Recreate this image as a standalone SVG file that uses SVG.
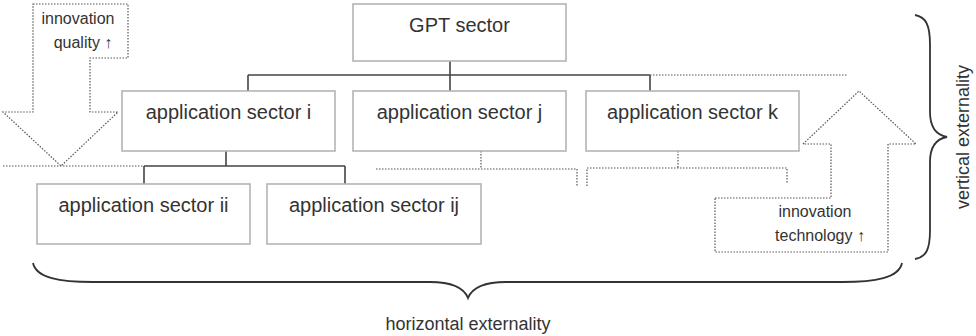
<svg xmlns="http://www.w3.org/2000/svg" width="976" height="336" viewBox="0 0 976 336">
<style>
.box{fill:#fff;stroke:#b4b4b4;stroke-width:1.6}
.lbl{font-family:"Liberation Sans",Arial,sans-serif;font-size:20px;fill:#333;text-anchor:middle}
.sm{font-family:"Liberation Sans",Arial,sans-serif;font-size:16px;fill:#333;text-anchor:middle}
.ext{font-family:"Liberation Sans",Arial,sans-serif;font-size:18px;fill:#333;text-anchor:middle}
.solid{fill:none;stroke:#444;stroke-width:1.6}
.dot{fill:none;stroke:#555;stroke-width:1.2;stroke-dasharray:1.5 1.5}
.brace{fill:none;stroke:#333;stroke-width:1.8}
</style>
<rect width="976" height="336" fill="#fff"/>
<g id="connectors">
<path class="solid" d="M450,61 V75 M248,75 H650 M248,75 V91 M450,75 V91 M650,75 V91"/>
<path class="solid" d="M226,151 V166 M144,166 H345 M144,166 V184 M345,166 V184"/>
<path class="dot" d="M650,75 H848"/>
<path class="dot" d="M3,166 H144"/>
<path class="dot" d="M481,151 V169 M376,169 H577 V186"/>
<path class="dot" d="M678,151 V168 M587,186 V168 H787 V184"/>
</g>
<g id="arrow-quality">
<path class="dot" d="M33,4 H128 V58 H90 V112 H118 L61,166 L3,112 H33 Z"/>
<text class="sm" x="78" y="24">innovation</text>
<text class="sm" x="83" y="48">quality ↑</text>
</g>
<g id="arrow-technology">
<path class="dot" d="M715,198 H831 V144 H803 L859,91 L916,144 H888 V252 H715 Z"/>
<text class="sm" x="815" y="217">innovation</text>
<text class="sm" x="820" y="241">technology ↑</text>
</g>
<g id="gpt"><rect class="box" x="353" y="4" width="213" height="57"/><text class="lbl" x="459.5" y="32">GPT sector</text></g>
<g id="sector-i"><rect class="box" x="122" y="91" width="213" height="60"/><text class="lbl" x="228.5" y="119">application sector i</text></g>
<g id="sector-j"><rect class="box" x="353" y="91" width="213" height="60"/><text class="lbl" x="459.5" y="119">application sector j</text></g>
<g id="sector-k"><rect class="box" x="586" y="91" width="213" height="60"/><text class="lbl" x="692.5" y="119">application sector k</text></g>
<g id="sector-ii"><rect class="box" x="37" y="184" width="213" height="60"/><text class="lbl" x="143.5" y="212">application sector ii</text></g>
<g id="sector-ij"><rect class="box" x="267" y="184" width="214" height="60"/><text class="lbl" x="374" y="212">application sector ij</text></g>
<g id="horizontal-brace">
<path class="brace" d="M33,263 C36,278 60,282 93,282 L430,282 C452,282 464,288 468,298 C472,288 484,282 506,282 L842,282 C875,282 899,278 902,263"/>
<text class="ext" x="468" y="330">horizontal externality</text>
</g>
<g id="vertical-brace">
<path class="brace" d="M915,15 C926,17 930,25 930,45 L930,112 C930,128 936,135 947,137 C936,139 930,146 930,162 L930,230 C930,250 926,257 915,259"/>
<text class="ext" transform="translate(969,137) rotate(-90)">vertical externality</text>
</g>
</svg>
